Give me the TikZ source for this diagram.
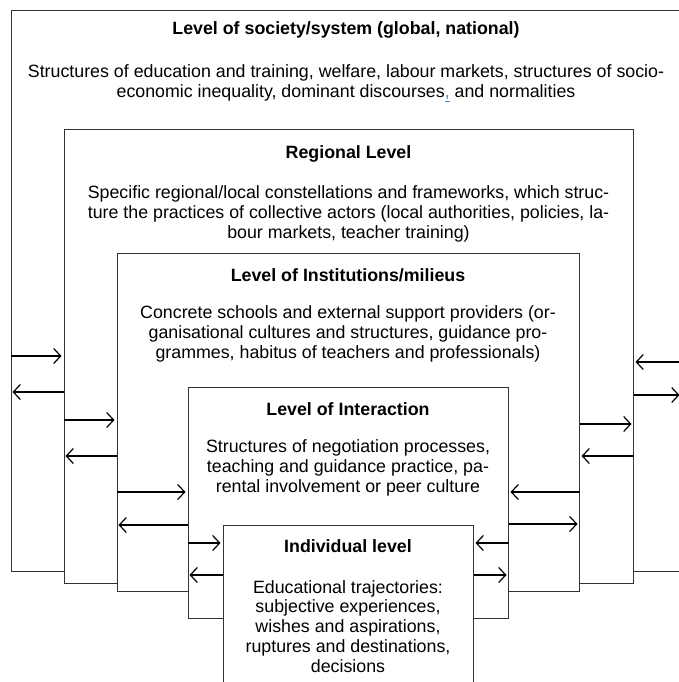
\documentclass[tikz,border=0pt]{standalone}
\usepackage{fontspec}
\setmainfont{Liberation Sans}
\usetikzlibrary{arrows.meta}
\definecolor{trackblue}{rgb}{0.25,0.55,0.85}

\begin{document}
\begin{tikzpicture}[x=1pt, y=-1pt,
    level/.style={draw=black!80, line width=1pt, fill=white, inner sep=0pt},
    title/.style={font=\fontsize{17.8}{19.9}\selectfont\bfseries},
    body/.style={font=\fontsize{17.8}{19.9}\selectfont, align=center},
    arr/.style={-{Straight Barb[length=7pt, width=15pt]}, line width=1.2pt, shorten >=2pt}]
  \useasboundingbox (0,0) rectangle (678,682);
  % nested levels, outer first
  \node[level, minimum width=670pt, minimum height=560pt] (society) at (346,291) {};
  \node[level, minimum width=569pt, minimum height=454pt] (regional) at (348.5,356) {};
  \node[level, minimum width=462pt, minimum height=338pt] (institutions) at (348,422) {};
  \node[level, minimum width=320pt, minimum height=231pt] (interaction) at (348,502.5) {};
  \node[level, minimum width=250pt, minimum height=175pt] (individual) at (348,612.5) {};
  % texts
  \node[title] (society title) at (346,29.5) {Level of society/system (global, national)};
  \node[body] (society text) at (346,83) {Structures of education and training, welfare, labour markets, structures of socio-\\economic inequality, dominant discourses{\color{trackblue}\underline{,}} and normalities};
  \node[title] (regional title) at (348.5,153.5) {Regional Level};
  \node[body] (regional text) at (348.5,213.5) {Specific regional/local constellations and frameworks, which struc-\\ture the practices of collective actors (local authorities, policies, la-\\bour markets, teacher training)};
  \node[title] (institutions title) at (348,275.5) {Level of Institutions/milieus};
  \node[body] (institutions text) at (348,334) {Concrete schools and external support providers (or-\\ganisational cultures and structures, guidance pro-\\grammes, habitus of teachers and professionals)};
  \node[title] (interaction title) at (348,409.5) {Level of Interaction};
  \node[body] (interaction text) at (348,468) {Structures of negotiation processes,\\teaching and guidance practice, pa-\\rental involvement or peer culture};
  \node[title] (individual title) at (348,546.5) {Individual level};
  \node[body] (individual text) at (348,626.5) {Educational trajectories:\\subjective experiences,\\wishes and aspirations,\\ruptures and destinations,\\decisions};
  % exchanges on the left
  \foreach \y/\a/\b in {356/society/regional, 392/regional/society,
      420/regional/institutions, 456/institutions/regional,
      492/institutions/interaction, 525/interaction/institutions,
      543/interaction/individual, 575/individual/interaction}
    \draw[arr] (\a.west |- 0,\y) -- (\b.west |- 0,\y);
  % exchanges on the right
  \foreach \y/\a/\b in {362/society/regional, 395/regional/society,
      424/institutions/regional, 456/regional/institutions,
      492/institutions/interaction, 524/interaction/institutions,
      543/interaction/individual, 575/individual/interaction}
    \draw[arr] (\a.east |- 0,\y) -- (\b.east |- 0,\y);
\end{tikzpicture}
\end{document}
